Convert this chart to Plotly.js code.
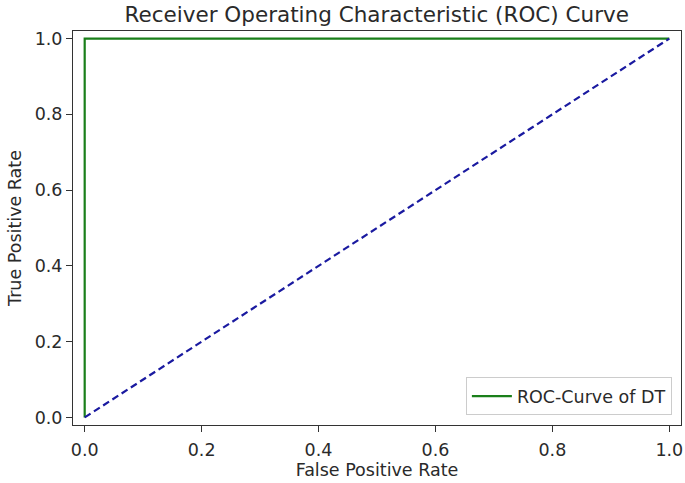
<!DOCTYPE html>
<html><head><meta charset="utf-8">
<script src="https://cdn.plot.ly/plotly-3.0.1.min.js"></script>
<style>html,body{margin:0;padding:0;background:#fff}#c{width:685px;height:483px}</style>
</head><body><div id="c"></div>
<script>
const fprDT = [0, 0, 1];
const tprDT = [0, 1, 1];
const chanceX = [0, 1];
const chanceY = [0, 1];
const tickVals = [0, 0.2, 0.4, 0.6, 0.8, 1.0];
const tickText = ["0.0", "0.2", "0.4", "0.6", "0.8", "1.0"];

const traces = [
  {x: fprDT, y: tprDT, mode: 'lines', name: 'ROC-Curve of DT',
   line: {color: '#1a7f1a', width: 2.2}},
  {x: chanceX, y: chanceY, mode: 'lines', showlegend: false,
   line: {color: '#1a1aa0', width: 2.2, dash: '7px,4px'}}
];
const font = {family: 'DejaVu Sans, sans-serif', color: '#2a2a2a', size: 18};
const axisCommon = {
  range: [-0.02, 1.02], tickvals: tickVals, ticktext: tickText,
  ticks: 'outside', ticklen: 6, tickwidth: 1, tickcolor: '#333',
  showline: true, mirror: true, linecolor: '#333', linewidth: 1,
  showgrid: false, zeroline: false, tickfont: {size: 17.5, color: '#2a2a2a'}
};
const layout = {
  width: 685, height: 483,
  margin: {l: 73, r: 4, t: 31, b: 58},
  paper_bgcolor: '#fff', plot_bgcolor: '#fff',
  font: font,
  title: {text: 'Receiver Operating Characteristic (ROC) Curve',
          font: {size: 21.5, color: '#2a2a2a'}, x: 0.55, xanchor: 'center', y: 0.97, yanchor: 'middle'},
  xaxis: Object.assign({}, axisCommon, {ticklabelstandoff: 3, title: {text: 'False Positive Rate', font: {size: 17.5}, standoff: 0}}),
  yaxis: Object.assign({}, axisCommon, {title: {text: 'True Positive Rate', font: {size: 17.5}, standoff: 8}}),
  showlegend: true,
  legend: {x: 0.985, y: 0.025, xanchor: 'right', yanchor: 'bottom',
           bgcolor: 'rgba(255,255,255,0.8)', bordercolor: '#ccc', borderwidth: 1,
           font: {size: 17.5, color: '#2a2a2a'}, itemwidth: 40}
};
Plotly.newPlot('c', traces, layout, {displayModeBar: false, staticPlot: true});
</script></body></html>
